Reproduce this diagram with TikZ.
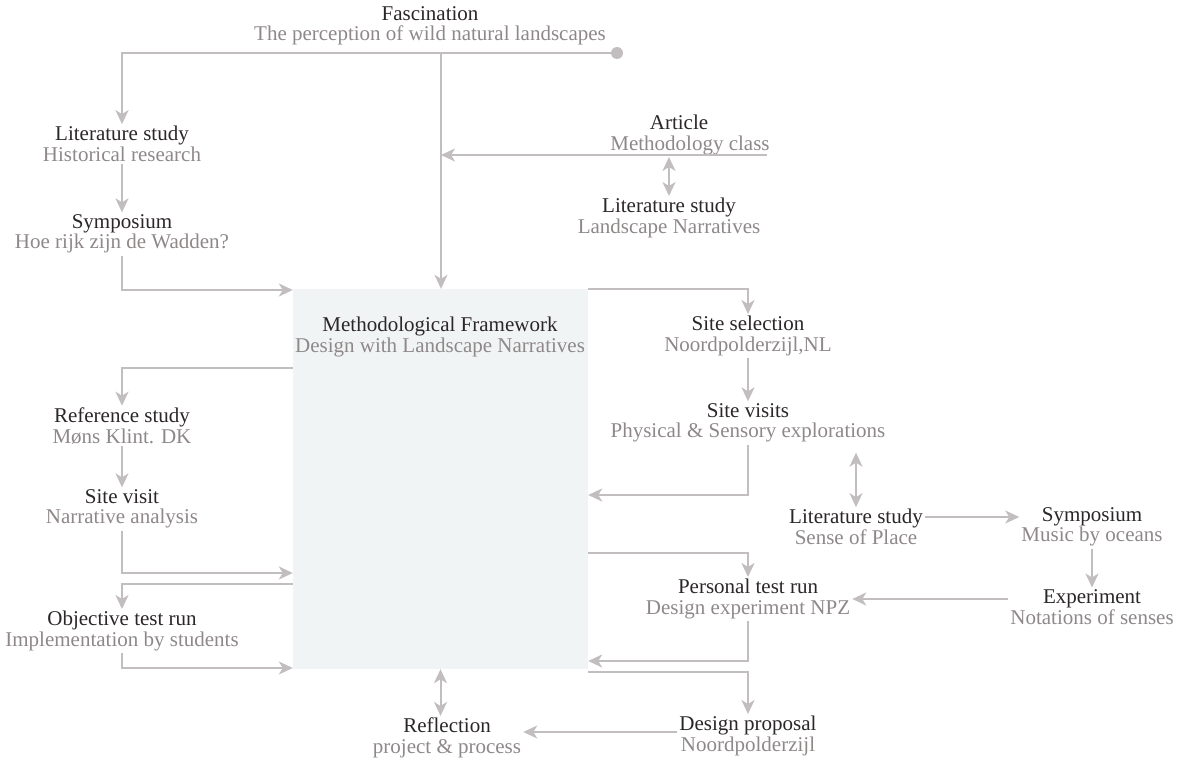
\documentclass[tikz,border=0pt]{standalone}
\usepackage{fontspec}
\setmainfont{Liberation Serif}
\usetikzlibrary{arrows.meta,calc}
\definecolor{titlec}{HTML}{2B2627}
\definecolor{subc}{HTML}{8E8889}
\definecolor{linec}{HTML}{C2BDBE}
\definecolor{boxc}{HTML}{F1F4F5}
\newcommand\headtxt[1]{{\color{titlec}#1}}
\newcommand\subtxt[1]{{\color{subc}#1}}
\begin{document}
\begin{tikzpicture}[x=1pt,y=-1pt,
  lbl/.style={align=center,inner sep=2pt,font=\fontsize{21}{20.5}\selectfont},
  conn/.style={draw=linec,line width=2pt},
  arr/.style={conn,-{Stealth[length=14pt,width=13pt,inset=4pt]}},
  darr/.style={conn,{Stealth[length=14pt,width=13pt,inset=4pt]}-{Stealth[length=14pt,width=13pt,inset=4pt]}},
  framebox/.style={fill=boxc,draw=none,minimum width=295pt,minimum height=380pt,inner sep=0pt}]
\useasboundingbox (0,0) rectangle (1185,760);
\node[framebox] (box) at (440.5,479) {};
\node[lbl] (frametxt) at (440,337) {\headtxt{Methodological Framework}\\\subtxt{Design with Landscape Narratives}};

\node[lbl] (fasc) at (430,26) {\headtxt{Fascination}\\\subtxt{The perception of wild natural landscapes}};
\node[lbl] (lit1) at (122,144) {\headtxt{Literature study}\\\subtxt{Historical research}};
\node[lbl] (sym1) at (122,234) {\headtxt{Symposium}\\\subtxt{Hoe rijk zijn de Wadden?}};
\node[lbl] (art) at (690,135) {\headtxt{Article}\hspace*{22pt}\\\subtxt{Methodology class}};
\node[lbl] (lit2) at (669,218) {\headtxt{Literature study}\\\subtxt{Landscape Narratives}};
\node[lbl] (sitesel) at (748,336) {\headtxt{Site selection}\\\subtxt{Noordpolderzijl,NL}};
\node[lbl] (sitevis) at (748,423) {\headtxt{Site visits}\\\subtxt{Physical \& Sensory explorations}};
\node[lbl] (lit3) at (856,527) {\headtxt{Literature study}\\\subtxt{Sense of Place}};
\node[lbl] (sym2) at (1092,527) {\headtxt{Symposium}\\\subtxt{Music by oceans}};
\node[lbl] (exp) at (1092,607) {\headtxt{Experiment}\\\subtxt{Notations of senses}};
\node[lbl] (pers) at (748,599) {\headtxt{Personal test run}\\\subtxt{Design experiment NPZ}};
\node[lbl] (prop) at (748,736) {\headtxt{Design proposal}\\\subtxt{Noordpolderzijl}};
\node[lbl] (refl) at (447,738) {\headtxt{Reflection}\\\subtxt{project \& process}};
\node[lbl] (refst) at (122,426) {\headtxt{Reference study}\\\subtxt{Møns Klint. DK}};
\node[lbl] (sitevisit) at (122,509) {\headtxt{Site visit}\\\subtxt{Narrative analysis}};
\node[lbl] (obj) at (122,631) {\headtxt{Objective test run}\\\subtxt{Implementation by students}};

\coordinate (dot) at (617,53);
\coordinate (split) at (441,53);
\coordinate (artR) at (767,155);

% top
\draw[arr] (dot) -| (lit1.north);
\fill[linec] (dot) circle (6);
\draw[arr] (split) -- (box.north -| split);
\draw[arr] (lit1.south) -- (sym1.north);
\draw[arr] (sym1.south) |- (box.west |- 0,290);
\draw[arr] (artR) -- (split |- artR);
\draw[darr] (lit2.north |- art.south) -- (lit2.north);
% right
\draw[arr] (box.north east) -| (sitesel.north);
\draw[arr] (sitesel.south) -- (sitevis.north);
\draw[arr] (sitevis.south) |- (box.east |- 0,495);
\draw[darr,shorten <=8pt] (lit3.north |- sitevis.south) -- (lit3.north);
\draw[arr] ([yshift=10pt]lit3.east) -- ([yshift=10pt]sym2.west);
\draw[arr] (sym2.south) -- (exp.north);
\draw[arr] ([yshift=8pt]exp.west) -- (pers.east);
\draw[arr] (box.east |- 0,553) -| (pers.north);
\draw[arr] (pers.south) |- (box.east |- 0,661);
\draw[arr] (box.east |- 0,672) -| (prop.north);
\draw[arr] ([yshift=4pt]prop.west) -- ([yshift=4pt]prop.west -| refl.east);
\draw[darr] (box.south) -- (box.south |- refl.north);
% left
\draw[arr] (box.west |- 0,368) -| (refst.north);
\draw[arr] (refst.south) -- (sitevisit.north);
\draw[arr] (sitevisit.south) |- (box.west |- 0,573);
\draw[arr] (box.west |- 0,584) -| (obj.north);
\draw[arr] (obj.south) |- (box.west |- 0,668);
\end{tikzpicture}
\end{document}
